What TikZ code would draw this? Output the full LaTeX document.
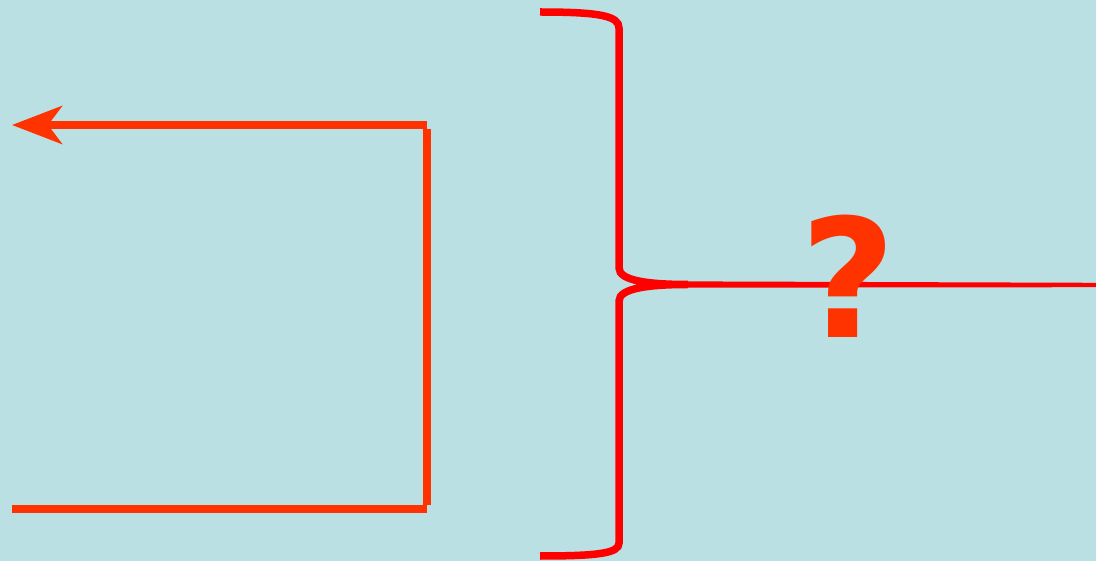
\documentclass[tikz,border=0pt]{standalone}
\usepackage{fontspec}
\setmainfont{DejaVu Sans}
\usetikzlibrary{arrows.meta}
\definecolor{bg}{HTML}{BAE0E3}
\definecolor{orred}{HTML}{FF3300}
\definecolor{pured}{HTML}{FF0000}
\tikzset{
  boxline/.style={draw=orred, line width=7.5pt},
  braceline/.style={draw=pured, line width=7.5pt},
}
\begin{document}
\begin{tikzpicture}[x=1pt,y=-1pt]
\fill[bg] (0,0) rectangle (1096,561);
\useasboundingbox (0,0) rectangle (1096,561);
% box with arrow
\coordinate (tl) at (12,125);
\coordinate (tr) at (427,125);
\coordinate (br) at (427,509);
\coordinate (bl) at (12,509);
\draw[boxline, -{Stealth[length=50pt,width=38pt,inset=14pt]}] (tr) -- (tl);
\draw[boxline] ([yshift=-3.75pt]tr) -- ([yshift=3.75pt]br);
\draw[boxline] (br) -- (bl);
% brace
\coordinate (b0) at (540,12);
\coordinate (b1) at (540,556);
\coordinate (tip) at (688,284.5);
\coordinate (re) at (1096,285);
\fill[pured] (665,281.3) -- (1096,282.8) -- (1096,287.2) -- (665,287.7) -- cycle;
\draw[braceline] (b0) .. controls (600,12) and (619,16) .. (619,28)
  -- (619,268) .. controls (619,281) and (650,284.5) .. (tip)
  .. controls (650,284.5) and (619,288) .. (619,301)
  -- (619,543) .. controls (619,553) and (600,556) .. (b1);
% question mark
\node[text=orred, font=\bfseries\fontsize{165}{165}\selectfont, inner sep=0pt, anchor=center] (q) at (848,276) {?};
\end{tikzpicture}
\end{document}
